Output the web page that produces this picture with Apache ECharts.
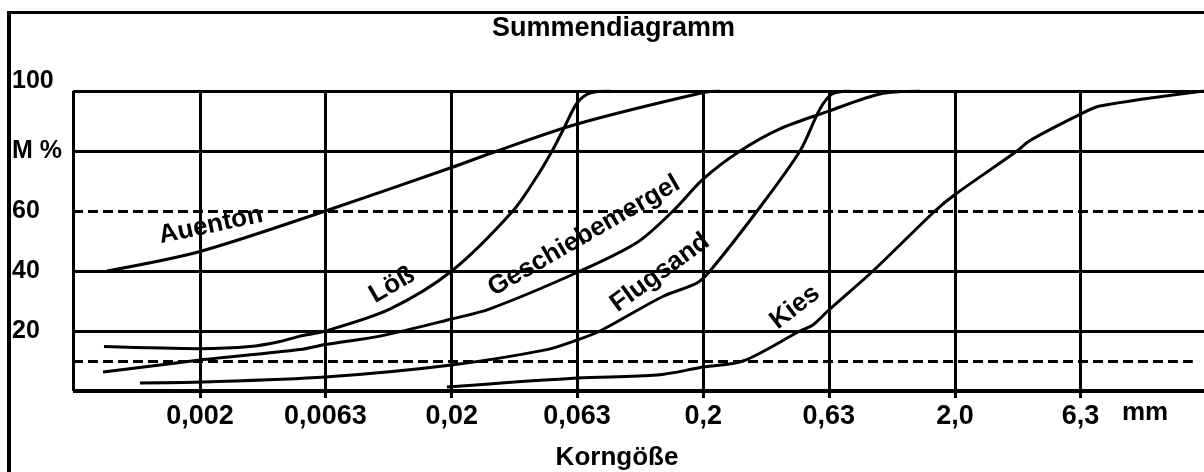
<!DOCTYPE html>
<html><head><meta charset="utf-8">
<script src="https://cdn.jsdelivr.net/npm/echarts@6/dist/echarts.min.js"></script>
<style>html,body{margin:0;padding:0;background:#fff}#c{width:1204px;height:472px}</style>
</head><body><div id="c"></div>
<script>
// ---- tick values / labels ----
const xTickValues = [0.002, 0.0063, 0.02, 0.063, 0.2, 0.63, 2.0, 6.3];
const xTickLabels = ['0,002', '0,0063', '0,02', '0,063', '0,2', '0,63', '2,0', '6,3'];
const yTickValues = [20, 40, 60, 80, 100];
const yTickLabels = ['20', '40', '60', 'M %', '100'];
const solidLevels = [20, 40, 80, 100];
const dashedLevels = [60];
const shortDashedLevel = 10;

// ---- series data: grain size (mm) and cumulative mass (%) ----
const auentonSize = [0.000854, 0.002, 0.0063, 0.02, 0.0303, 0.063, 0.2, 0.233];
const auentonPct  = [40, 46.5, 60, 74.5, 80, 89, 99.5, 100];

const loessSize = [0.000831, 0.002, 0.00316, 0.00416, 0.00499, 0.0063, 0.0114, 0.02, 0.035, 0.044, 0.0501, 0.0554, 0.063, 0.0709, 0.0851];
const loessPct  = [14.8, 14.1, 14.8, 16.5, 18.3, 20, 27.4, 40, 60, 72, 80, 87, 96, 99.3, 100];

const mergelSize = [0.000824, 0.002, 0.00499, 0.0063, 0.01038, 0.02, 0.0284, 0.063, 0.109, 0.1514, 0.2, 0.2796, 0.403, 0.63, 1.006, 1.451];
const mergelPct  = [6.3, 10.3, 13.8, 15.5, 18.3, 24, 27.4, 39.5, 49.5, 60, 70.7, 80, 87.4, 93.3, 99, 100];

const flugsandSize = [0.001155, 0.002, 0.0063, 0.02, 0.0478, 0.063, 0.0777, 0.138, 0.1886, 0.2125, 0.327, 0.484, 0.581, 0.649, 0.765];
const flugsandPct  = [2.7, 3, 4.7, 8.7, 13.8, 17, 20, 31.5, 36, 40, 60, 80, 94, 99, 100];

const kiesSize = [0.01916, 0.063, 0.1308, 0.2, 0.2874, 0.484, 0.545, 0.63, 0.944, 1.664, 2.0, 3.524, 3.97, 6.3, 7.53, 19.5];
const kiesPct  = [1.3, 4.3, 5.3, 8, 10, 20, 22, 27, 40, 60, 65.5, 80, 83.5, 92.3, 95, 100];

const seriesNames = ['Auenton', 'Löß', 'Geschiebemergel', 'Flugsand', 'Kies'];
const seriesSizes = [auentonSize, loessSize, mergelSize, flugsandSize, kiesSize];
const seriesPcts  = [auentonPct, loessPct, mergelPct, flugsandPct, kiesPct];

// ---- layout / style (not data) ----
const FONT = '"Liberation Sans", Arial, sans-serif';
const xMin = 0.000626, xMax = 19.5, yMin = -7 / 3;
const labelPlacement = {
  'Auenton':         { at: [0.00221, 55.2], rotate: 12 },
  'Löß':             { at: [0.01158, 35.3], rotate: 30 },
  'Geschiebemergel': { at: [0.0671, 51.7],  rotate: 30 },
  'Flugsand':        { at: [0.1344, 39.4],  rotate: 36 },
  'Kies':            { at: [0.4624, 27.9],  rotate: 38 }
};

const gridLines = [];
solidLevels.forEach(v => gridLines.push({ yAxis: v, lineStyle: { type: 'solid', width: 3, color: '#000' } }));
gridLines.push({ yAxis: 0, lineStyle: { type: 'solid', width: 4, color: '#000' } });
dashedLevels.forEach(v => gridLines.push({ yAxis: v, lineStyle: { type: [10, 5], width: 3, color: '#000' } }));
gridLines.push([{ coord: [xMin, shortDashedLevel], lineStyle: { type: [10, 5], width: 3, color: '#000' } }, { coord: [17.6, shortDashedLevel] }]);
gridLines.push([{ coord: [xMin * 1.001, 0], lineStyle: { type: 'solid', width: 3, color: '#000' } }, { coord: [xMin * 1.001, 100] }]);
xTickValues.forEach((v, i) => gridLines.push([
  { coord: [v, 100], lineStyle: { type: 'solid', width: 3, color: '#000' },
    label: { show: true, position: 'end', distance: 5, formatter: xTickLabels[i],
             fontSize: 27, fontWeight: 'bold', fontFamily: FONT, color: '#000' } },
  { coord: [v, yMin] }
]));

const series = seriesNames.map((name, k) => {
  const p = labelPlacement[name];
  const s = {
    name, type: 'line', smooth: 0.3, showSymbol: false, silent: true, z: 3,
    lineStyle: { color: '#000', width: 3 },
    data: seriesSizes[k].map((x, i) => [x, seriesPcts[k][i]]),
    markPoint: {
      silent: true, symbol: 'circle', symbolSize: 1, itemStyle: { color: 'rgba(0,0,0,0)' },
      label: { show: true, position: 'inside', formatter: name, rotate: p.rotate,
               fontSize: 26, fontWeight: 'bold', fontFamily: FONT, color: '#000' },
      data: [{ coord: p.at, name }]
    }
  };
  if (k === 0) {
    s.markLine = { silent: true, symbol: ['none', 'none'], animation: false, z: 1,
                   label: { show: false }, data: gridLines };
  }
  return s;
});

const chart = echarts.init(document.getElementById('c'));
chart.setOption({
  animation: false,
  backgroundColor: '#fff',
  title: { text: 'Summendiagramm', left: 492, top: 15, padding: 0,
           textStyle: { fontSize: 27, fontWeight: 'bold', fontFamily: FONT, color: '#000' } },
  grid: { left: 73, right: 0, top: 91, bottom: 74, containLabel: false },
  xAxis: { type: 'log', logBase: 10, min: xMin, max: xMax,
           axisLine: { show: false }, axisTick: { show: false }, axisLabel: { show: false }, splitLine: { show: false } },
  yAxis: { type: 'value', min: yMin, max: 100,
           axisLine: { show: false }, axisTick: { show: false }, splitLine: { show: false },
           axisLabel: { show: true, customValues: yTickValues, align: 'left', margin: 61,
                        fontSize: 25, fontWeight: 'bold', fontFamily: FONT, color: '#000',
                        formatter: v => { const s = yTickLabels[yTickValues.indexOf(v)]; return v === 100 ? '{up|' + s + '}' : s; },
                        rich: { up: { fontSize: 25, fontWeight: 'bold', fontFamily: FONT, color: '#000', padding: [0, 0, 20, 0] } } } },
  graphic: [
    { type: 'line', shape: { x1: 9, y1: 11, x2: 9, y2: 472 }, style: { stroke: '#000', lineWidth: 4 } },
    { type: 'line', shape: { x1: 7, y1: 12.5, x2: 1204, y2: 12.5 }, style: { stroke: '#000', lineWidth: 3 } },
    { type: 'text', style: { text: 'mm', x: 1145, y: 413, textAlign: 'center', textVerticalAlign: 'middle',
                             font: 'bold 26px ' + FONT, fill: '#000' } },
    { type: 'text', style: { text: 'Korngöße', x: 617, y: 458, textAlign: 'center', textVerticalAlign: 'middle',
                             font: 'bold 26px ' + FONT, fill: '#000' } }
  ],
  series
});
</script></body></html>
